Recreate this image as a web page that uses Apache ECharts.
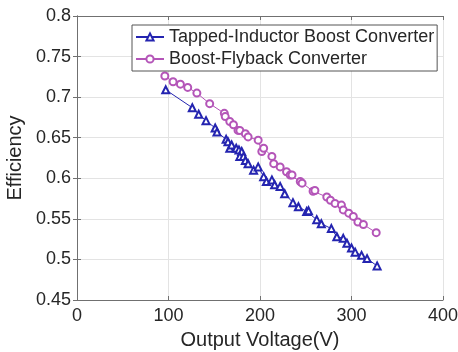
<!DOCTYPE html>
<html>
<head>
<meta charset="utf-8">
<script src="https://cdn.jsdelivr.net/npm/echarts@6/dist/echarts.min.js"></script>
<style>html,body{margin:0;padding:0;background:#fff}#c{width:458px;height:352px}</style>
</head>
<body>
<div id="c"></div>
<script>
const seriesNames = ['Tapped-Inductor Boost Converter', 'Boost-Flyback Converter'];
const xTicks = [0, 100, 200, 300, 400];
const yTicks = [0.45, 0.5, 0.55, 0.6, 0.65, 0.7, 0.75, 0.8];

const tappedV = [97, 126, 133, 141, 151, 153, 163, 165, 167, 169, 174, 177, 180, 178, 182, 184, 187, 193, 198, 204, 207, 213, 216, 222, 227, 236, 242, 251, 253, 262, 267, 278, 284, 291, 295, 300, 304, 311, 317, 328];
const tappedE = [0.709, 0.687, 0.679, 0.671, 0.662, 0.657, 0.648, 0.645, 0.637, 0.641, 0.637, 0.635, 0.633, 0.627, 0.627, 0.622, 0.618, 0.610, 0.614, 0.602, 0.596, 0.598, 0.592, 0.590, 0.581, 0.570, 0.565, 0.559, 0.560, 0.549, 0.544, 0.538, 0.528, 0.526, 0.520, 0.514, 0.509, 0.505, 0.501, 0.492];

const flybackV = [96, 105, 113, 121, 131, 145, 161, 162, 167, 171, 176, 178, 184, 187, 198, 202, 204, 213, 215, 222, 229, 233, 235, 244, 246, 258, 260, 273, 277, 282, 289, 291, 297, 302, 307, 313, 327];
const flybackE = [0.726, 0.719, 0.716, 0.712, 0.705, 0.692, 0.680, 0.676, 0.670, 0.666, 0.659, 0.659, 0.655, 0.651, 0.647, 0.633, 0.637, 0.627, 0.618, 0.614, 0.608, 0.604, 0.604, 0.596, 0.594, 0.584, 0.585, 0.577, 0.573, 0.569, 0.567, 0.561, 0.557, 0.553, 0.546, 0.543, 0.533];

const blue = '#2424b0';
const purple = '#b455b8';
const font = 'Liberation Sans, Arial, sans-serif';

const chart = echarts.init(document.getElementById('c'));
const pair = (xs, ys) => xs.map((x, i) => [x, ys[i]]);

const axisCommon = {
  axisLine: { show: true, lineStyle: { color: '#707070', width: 1 } },
  axisTick: { show: true, inside: true, length: 4, lineStyle: { color: '#707070' } },
};

chart.setOption({
  animation: false,
  backgroundColor: '#fff',
  grid: { left: 77, right: 15, top: 16, bottom: 52, containLabel: false, outerBoundsMode: 'none' },
  legend: {
    orient: 'vertical',
    left: 132, top: 25,
    backgroundColor: '#fff',
    borderColor: '#555', borderWidth: 1,
    padding: [2, 3, 2, 3],
    itemGap: 2,
    itemWidth: 28, itemHeight: 9,
    textStyle: { fontFamily: font, fontSize: 18, color: '#262626', lineHeight: 20 },
    data: seriesNames
  },
  xAxis: [{
    type: 'value', min: 0, max: 400, interval: 100, position: 'bottom',
    name: 'Output Voltage(V)', nameLocation: 'middle', nameGap: 30,
    nameTextStyle: { fontFamily: font, fontSize: 20, color: '#262626' },
    axisLabel: { fontFamily: font, fontSize: 18, color: '#262626', margin: 7,
      formatter: v => xTicks.includes(v) ? String(v) : '' },
    splitLine: { show: true, lineStyle: { color: '#e3e3e3' } },
    ...axisCommon
  }, {
    type: 'value', min: 0, max: 400, interval: 100, position: 'top',
    axisLabel: { show: false }, splitLine: { show: false },
    ...axisCommon
  }],
  yAxis: [{
    type: 'value', min: 0.45, max: 0.8, interval: 0.05, position: 'left',
    name: 'Efficiency', nameLocation: 'middle', nameGap: 46, nameRotate: 90,
    nameTextStyle: { fontFamily: font, fontSize: 20, color: '#262626' },
    axisLabel: { fontFamily: font, fontSize: 18, color: '#262626', margin: 6,
      formatter: v => { const r = Math.round(v * 100) / 100; return yTicks.includes(r) ? String(r) : ''; } },
    splitLine: { show: true, lineStyle: { color: '#e3e3e3' } },
    ...axisCommon
  }, {
    type: 'value', min: 0.45, max: 0.8, interval: 0.05, position: 'right',
    axisLabel: { show: false }, splitLine: { show: false },
    ...axisCommon
  }],
  series: [{
    name: seriesNames[0], type: 'line',
    data: pair(tappedV, tappedE),
    symbol: 'emptyTriangle', symbolSize: 7,
    lineStyle: { color: blue, width: 1 },
    itemStyle: { color: blue, borderWidth: 1 },
  }, {
    name: seriesNames[1], type: 'line',
    data: pair(flybackV, flybackE),
    symbol: 'emptyCircle', symbolSize: 7,
    lineStyle: { color: purple, width: 1 },
    itemStyle: { color: purple, borderWidth: 1 },
  }]
});
</script>
</body>
</html>
